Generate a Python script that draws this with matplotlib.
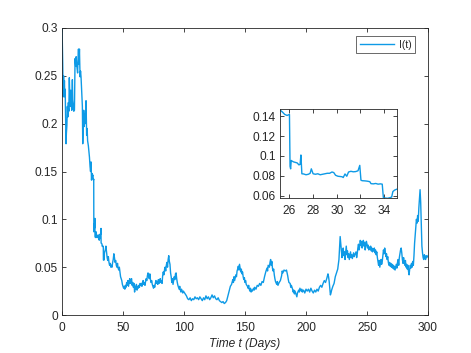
import matplotlib
matplotlib.use("Agg")
import matplotlib.pyplot as plt
import numpy as np

plt.rcParams['font.family'] = ['Liberation Sans', 'DejaVu Sans']

# ---- data: (time, I) samples ----
seg_early = [(0, 0.303), (0.3, 0.285), (0.6, 0.262), (1.0, 0.228), (1.3, 0.250), (1.6, 0.232),
             (2.0, 0.245), (2.3, 0.228), (2.6, 0.236), (3.0, 0.200), (3.3, 0.179), (3.6, 0.190),
             (4.0, 0.198), (4.4, 0.218), (4.8, 0.207), (5.2, 0.222), (5.6, 0.213), (6.0, 0.248),
             (6.4, 0.228), (6.8, 0.218), (7.2, 0.235), (7.6, 0.222), (8.0, 0.214), (8.5, 0.246),
             (8.8, 0.225), (9.2, 0.220), (9.6, 0.213), (10.2, 0.214), (10.7, 0.268), (11.2, 0.260),
             (11.6, 0.270), (12.0, 0.262), (12.8, 0.253), (13.2, 0.270), (13.5, 0.278), (13.9, 0.262),
             (14.3, 0.278), (14.8, 0.249), (15.2, 0.255), (15.6, 0.249), (16.2, 0.232), (16.7, 0.218),
             (17.0, 0.179), (17.4, 0.200), (17.8, 0.214), (18.2, 0.197), (18.6, 0.210), (19.0, 0.200),
             (19.7, 0.224), (20.2, 0.188), (20.6, 0.195), (21.0, 0.182), (21.6, 0.177), (22.0, 0.172),
             (22.5, 0.165), (23.0, 0.155), (23.4, 0.150), (23.8, 0.160), (24.2, 0.141), (24.6, 0.148),
             (25.0, 0.145)]

seg_inset = [(25.2, 0.1465), (25.4, 0.1445), (25.6, 0.142), (25.8, 0.141), (26.0, 0.142),
             (26.05, 0.0895), (26.1, 0.087), (26.15, 0.0955), (26.2, 0.095), (26.35, 0.094),
             (26.5, 0.0935), (26.65, 0.093), (26.8, 0.091), (26.9, 0.0915), (26.97, 0.101),
             (27.05, 0.082), (27.2, 0.0818), (27.4, 0.081), (27.6, 0.0815), (27.75, 0.0825),
             (27.85, 0.087), (28.0, 0.082), (28.2, 0.0815), (28.4, 0.082), (28.6, 0.081),
             (28.8, 0.0815), (29.0, 0.082), (29.2, 0.0825), (29.4, 0.0825), (29.6, 0.0838),
             (29.75, 0.0832), (29.9, 0.0805), (30.1, 0.0795), (30.3, 0.0792), (30.45, 0.0790),
             (30.55, 0.0782), (30.7, 0.0818), (30.85, 0.0795), (31.0, 0.0838), (31.2, 0.0845),
             (31.4, 0.0840), (31.6, 0.0842), (31.8, 0.0850), (31.95, 0.0905), (32.05, 0.0755),
             (32.15, 0.0750), (32.4, 0.0748), (32.6, 0.0745), (32.8, 0.0740), (32.9, 0.0720),
             (33.1, 0.0718), (33.3, 0.0722), (33.5, 0.0715), (33.7, 0.0718), (33.85, 0.0715),
             (33.95, 0.0575), (34.1, 0.0575), (34.3, 0.0572), (34.5, 0.0578), (34.65, 0.0585),
             (34.75, 0.0640), (34.9, 0.0655), (35.1, 0.0665)]

seg_decay = [(35.5, 0.068), (36, 0.072), (36.5, 0.066), (37, 0.060), (37.5, 0.057), (38, 0.061),
             (38.5, 0.055), (39, 0.052), (39.5, 0.054), (40, 0.050), (40.5, 0.052), (41, 0.050),
             (41.5, 0.055), (42, 0.058), (42.5, 0.064), (43, 0.060), (43.5, 0.055), (44, 0.057),
             (44.5, 0.052), (45, 0.050), (45.5, 0.054), (46, 0.049), (46.5, 0.047), (47, 0.050),
             (47.5, 0.045), (48, 0.040), (48.5, 0.038), (49, 0.036), (49.5, 0.032), (50, 0.030),
             (50.5, 0.028), (51, 0.030), (51.5, 0.027), (52, 0.031), (52.5, 0.029), (53, 0.034),
             (53.5, 0.031), (54, 0.036), (54.5, 0.030), (55, 0.034), (55.5, 0.038), (56, 0.033),
             (56.5, 0.035), (57, 0.038), (57.5, 0.031), (58, 0.034), (58.5, 0.029), (59, 0.033),
             (59.5, 0.024), (60, 0.030), (60.5, 0.027), (61, 0.032), (61.5, 0.026), (62, 0.030),
             (62.5, 0.028), (63, 0.031), (63.5, 0.029), (64, 0.033), (64.5, 0.031), (65, 0.033)]

seg_mid1 = [(65.5, 0.030), (66, 0.034), (66.5, 0.036), (67, 0.032), (67.5, 0.034), (68, 0.031),
            (68.5, 0.035), (69, 0.038), (69.5, 0.036), (70, 0.041), (70.5, 0.044), (71, 0.042),
            (71.5, 0.038), (72, 0.043), (72.5, 0.037), (73, 0.034), (73.5, 0.036), (74, 0.032),
            (74.5, 0.030), (75, 0.028), (75.5, 0.031), (76, 0.029), (76.5, 0.033), (77, 0.036),
            (77.5, 0.033), (78, 0.035), (78.5, 0.032), (79, 0.037), (79.5, 0.033), (80, 0.035),
            (80.5, 0.038), (81, 0.034), (81.5, 0.036), (82, 0.033), (82.5, 0.041), (83, 0.045),
            (83.5, 0.042), (84, 0.047), (84.5, 0.050), (85, 0.046), (85.5, 0.052), (86, 0.055),
            (86.5, 0.050), (87, 0.058), (87.5, 0.062), (88, 0.056), (88.5, 0.053), (89, 0.044),
            (89.5, 0.040), (90, 0.034), (90.5, 0.038), (91, 0.032), (91.5, 0.036), (92, 0.040),
            (92.5, 0.037), (93, 0.043), (93.5, 0.044), (94, 0.038), (94.5, 0.034), (95, 0.031),
            (95.5, 0.029), (96, 0.027), (96.5, 0.030), (97, 0.026), (97.5, 0.024), (98, 0.027),
            (98.5, 0.025), (99, 0.023), (99.5, 0.025), (100, 0.024)]

seg_low = [(101, 0.022), (102, 0.020), (103, 0.017), (104, 0.016), (105, 0.018), (106, 0.015),
           (107, 0.017), (108, 0.016), (109, 0.019), (110, 0.017), (111, 0.018), (112, 0.016),
           (113, 0.019), (114, 0.017), (115, 0.015), (116, 0.018), (117, 0.016), (118, 0.020),
           (119, 0.017), (120, 0.019), (121, 0.016), (122, 0.018), (123, 0.021), (124, 0.018),
           (125, 0.020), (126, 0.017), (127, 0.016), (128, 0.018), (129, 0.015), (130, 0.014),
           (131, 0.013), (132, 0.014), (133, 0.012), (134, 0.013), (135, 0.015), (136, 0.020),
           (137, 0.025), (138, 0.030), (139, 0.032), (140, 0.037)]

seg_mid2 = [(140.5, 0.034), (141, 0.040), (141.5, 0.036), (142, 0.039), (142.5, 0.042), (143, 0.040),
            (143.5, 0.046), (144, 0.048), (144.5, 0.051), (145, 0.047), (145.5, 0.053), (146, 0.049),
            (146.5, 0.045), (147, 0.048), (147.5, 0.043), (148, 0.045), (148.5, 0.040), (149, 0.037),
            (149.5, 0.039), (150, 0.034), (150.5, 0.036), (151, 0.032), (152, 0.030), (152.5, 0.028),
            (153, 0.031), (153.5, 0.027), (154, 0.025), (154.5, 0.028), (155, 0.024), (155.5, 0.026),
            (156, 0.025), (157, 0.028), (157.5, 0.026), (158, 0.029), (159, 0.027), (160, 0.031),
            (161, 0.030), (162, 0.033), (163, 0.031), (164, 0.035), (165, 0.034), (166, 0.040),
            (167, 0.045), (168, 0.049), (168.5, 0.046), (169, 0.052), (170, 0.050), (170.5, 0.055),
            (171, 0.058), (171.5, 0.052), (172, 0.056), (172.5, 0.049), (173, 0.046), (173.5, 0.048),
            (174, 0.042), (174.5, 0.038), (175, 0.035), (176, 0.032), (176.5, 0.035), (177, 0.031),
            (178, 0.034), (179, 0.036), (180, 0.041), (180.5, 0.046), (181, 0.044), (182, 0.047),
            (183, 0.046), (184, 0.047), (185, 0.041)]

seg_mid3 = [(185.5, 0.037), (186, 0.034), (187, 0.033), (187.5, 0.029), (188, 0.031), (189, 0.027),
            (189.5, 0.024), (190, 0.026), (190.5, 0.022), (191, 0.025), (192, 0.021), (192.5, 0.019),
            (193, 0.023), (194, 0.026), (194.5, 0.024), (195, 0.028), (196, 0.025), (196.5, 0.027),
            (197, 0.024), (198, 0.026), (199, 0.023), (200, 0.027), (201, 0.025), (202, 0.027),
            (203, 0.024), (204, 0.028), (205, 0.025), (206, 0.023), (207, 0.026), (208, 0.024),
            (209, 0.027), (210, 0.025), (211, 0.029), (212, 0.031), (213, 0.029), (214, 0.033),
            (215, 0.036), (216, 0.034), (217, 0.038), (218, 0.043), (218.5, 0.040), (219, 0.035),
            (219.5, 0.028), (220, 0.021), (220.5, 0.023), (221, 0.026), (222, 0.030), (223, 0.033),
            (224, 0.040), (225, 0.044), (226, 0.048), (227, 0.058), (227.5, 0.070), (228, 0.082),
            (228.5, 0.075), (229, 0.068), (229.5, 0.060), (230, 0.064)]

seg_high = [(230.5, 0.070), (231, 0.062), (231.5, 0.066), (232, 0.058), (232.5, 0.065), (233, 0.072),
            (233.5, 0.063), (234, 0.067), (234.5, 0.060), (235, 0.064), (235.5, 0.058), (236, 0.062),
            (236.5, 0.066), (237, 0.060), (237.5, 0.063), (238, 0.059), (238.5, 0.062), (239, 0.065),
            (239.5, 0.061), (240, 0.063), (241, 0.066), (241.5, 0.060), (242, 0.064), (242.5, 0.070),
            (243, 0.074), (243.5, 0.068), (244, 0.072), (244.5, 0.078), (245, 0.073), (245.5, 0.077),
            (246, 0.070), (246.5, 0.075), (247, 0.078), (247.5, 0.072), (248, 0.076), (248.5, 0.068),
            (249, 0.072), (249.5, 0.077), (250, 0.074), (250.5, 0.070), (251, 0.073), (251.5, 0.068),
            (252, 0.071), (252.5, 0.069), (253, 0.072), (253.5, 0.067), (254, 0.070), (254.5, 0.066),
            (255, 0.069), (255.5, 0.067), (256, 0.070), (256.5, 0.065), (257, 0.068), (257.5, 0.063),
            (258, 0.066)]

seg_end = [(258.5, 0.060), (259, 0.056), (259.5, 0.052), (260, 0.057), (260.5, 0.050), (261, 0.054),
           (261.5, 0.058), (262, 0.053), (262.5, 0.056), (263, 0.062), (263.5, 0.068), (264, 0.064),
           (264.5, 0.070), (265, 0.066), (265.5, 0.061), (266, 0.064), (266.5, 0.058), (267, 0.061),
           (267.5, 0.055), (268, 0.052), (268.5, 0.055), (269, 0.051), (269.5, 0.054), (270, 0.050),
           (270.5, 0.053), (271, 0.049), (271.5, 0.052), (272, 0.048), (272.5, 0.051), (273, 0.047),
           (273.5, 0.050), (274, 0.053), (274.5, 0.049), (275, 0.055), (275.5, 0.058), (276, 0.052),
           (276.5, 0.060), (277, 0.064), (277.5, 0.068), (278, 0.070), (278.5, 0.065), (279, 0.058),
           (279.5, 0.054), (280, 0.060), (280.5, 0.055), (281, 0.052), (281.5, 0.057), (282, 0.050),
           (282.5, 0.053), (283, 0.048), (283.5, 0.052), (284, 0.046), (284.5, 0.042), (285, 0.048),
           (285.5, 0.052), (286, 0.049), (286.5, 0.054), (287, 0.050), (287.5, 0.056), (288, 0.052),
           (288.5, 0.062), (289, 0.075), (289.5, 0.083), (290, 0.092), (290.5, 0.100), (291, 0.096),
           (291.5, 0.104), (292, 0.098), (292.5, 0.112), (293, 0.121), (293.5, 0.131), (294, 0.118),
           (294.5, 0.095), (295, 0.072), (295.5, 0.065), (296, 0.060), (296.5, 0.058), (297, 0.063),
           (297.5, 0.061), (298, 0.058), (298.5, 0.062), (299, 0.060), (300, 0.062)]

series_label = "I(t)"
x_label = "Time t (Days)"
main_xticks = [0, 50, 100, 150, 200, 250, 300]
main_yticks = [0, 0.05, 0.1, 0.15, 0.2, 0.25, 0.3]
main_yticklabels = ["0", "0.05", "0.1", "0.15", "0.2", "0.25", "0.3"]
inset_xticks = [26, 28, 30, 32, 34]
inset_yticks = [0.06, 0.08, 0.1, 0.12, 0.14]
inset_yticklabels = ["0.06", "0.08", "0.1", "0.12", "0.14"]

pts = seg_early + seg_inset + seg_decay + seg_mid1 + seg_low + seg_mid2 + seg_mid3 + seg_high + seg_end
t = np.array([p[0] for p in pts])
I = np.array([p[1] for p in pts])

line_color = '#0e9ae6'
axis_color = '#262626'
fs = 8.6

fig = plt.figure(figsize=(4.71, 3.53), dpi=100)
ax = fig.add_axes([62/471, 38/353, 366/471, 287/353])
ax.plot(t, I, color=line_color, lw=1.0, label=series_label)
ax.set_xlim(0, 300)
ax.set_ylim(0, 0.3)
ax.set_xticks(main_xticks)
ax.set_yticks(main_yticks)
ax.set_yticklabels(main_yticklabels)
ax.set_xlabel(x_label, fontsize=fs, style='italic', color=axis_color, labelpad=3)


def style_axes(a):
    for s in a.spines.values():
        s.set_color(axis_color)
        s.set_linewidth(0.6)
    a.tick_params(direction='in', length=3, width=0.6, colors=axis_color,
                  labelsize=fs, top=True, right=True, pad=3)
    a.tick_params(axis='x', pad=5)


style_axes(ax)

leg = ax.legend(fontsize=7.5, frameon=True, fancybox=False, handlelength=3.3,
                borderpad=0.35, handletextpad=0.4, loc='upper right',
                bbox_to_anchor=(415/471, 1 - 36/353), bbox_transform=fig.transFigure,
                borderaxespad=0)
leg.get_frame().set_edgecolor(axis_color)
leg.get_frame().set_linewidth(0.6)
for txt in leg.get_texts():
    txt.set_color(axis_color)

axin = fig.add_axes([280/471, (353-198)/353, 117/471, 89/353])
axin.plot(t, I, color=line_color, lw=1.0)
axin.set_xlim(25.2, 35.1)
axin.set_ylim(0.0575, 0.1475)
axin.set_xticks(inset_xticks)
axin.set_yticks(inset_yticks)
axin.set_yticklabels(inset_yticklabels)
style_axes(axin)
axin.set_facecolor('white')

fig.savefig('out.png', dpi=100)
